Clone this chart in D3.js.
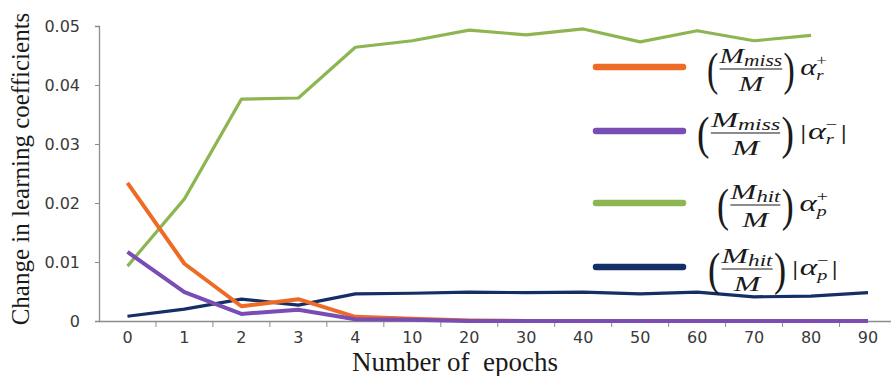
<!DOCTYPE html>
<html>
<head>
<meta charset="utf-8">
<script src="https://cdn.jsdelivr.net/npm/d3@7"></script>
<style>
  body { margin: 0; background: #fff; }
  svg { display: block; }
  .tick text { font-family: "DejaVu Sans", Verdana, sans-serif; font-size: 16px; fill: #3a3a3a; }
  .math { font-family: "Liberation Serif", "DejaVu Serif", serif; fill: #1a1a1a; }
</style>
</head>
<body>
<svg id="chart" width="891" height="376"></svg>
<script>
// epochs on the x axis (categorical)
var epochs = ["0", "1", "2", "3", "4", "10", "20", "30", "40", "50", "60", "70", "80", "90"];
var yTicks = [0, 0.01, 0.02, 0.03, 0.04, 0.05];

// (M_miss/M) a_r+
var missPos = [0.0234, 0.0097, 0.0025, 0.0037, 0.0007, 0.0004, 0.0001, 0, 0, 0, 0, 0, 0, 0];
// (M_miss/M) |a_r-|
var missNeg = [0.0117, 0.0049, 0.0012, 0.0019, 0.0003, 0.0002, 0, 0, 0, 0, 0, 0, 0, 0];
// (M_hit/M) a_p+  (line stops at 80 in the figure)
var hitPos = [0.0093, 0.0207, 0.0376, 0.0378, 0.0464, 0.0475, 0.0493, 0.0485, 0.0495, 0.0473, 0.0492, 0.0475, 0.0484];
// (M_hit/M) |a_p-|
var hitNeg = [0.0008, 0.0020, 0.0037, 0.0027, 0.0046, 0.0047, 0.0049, 0.0048, 0.0049, 0.0046, 0.0049, 0.0041, 0.0042, 0.0048];

var series = [
  { values: hitPos, color: "#8db652", width: 3.2, sub: "hit", aSub: "p", aSup: "+", abs: false },
  { values: hitNeg, color: "#142e66", width: 3.2, sub: "hit", aSub: "p", aSup: "\u2212", abs: true },
  { values: missPos, color: "#ee6b25", width: 4, sub: "miss", aSub: "r", aSup: "+", abs: false },
  { values: missNeg, color: "#7a4db5", width: 4, sub: "miss", aSub: "r", aSup: "\u2212", abs: true }
];
// legend order as in the figure
var legendOrder = [2, 3, 0, 1];
var legendY = [67, 131, 203, 267];
var legendTextX = [707, 697, 717, 708];
var legendTextW = [120, 150, 111, 130];

var svg = d3.select("#chart");
var plotLeft = 99, plotRight = 896.5, plotTop = 26, plotBottom = 321;

var x = d3.scaleBand().domain(epochs).range([plotLeft, plotRight]).padding(0);
var y = d3.scaleLinear().domain([0, 0.05]).range([plotBottom, plotTop]);

// y axis
var yAxis = d3.axisLeft(y)
  .tickValues(yTicks)
  .tickSize(4)
  .tickPadding(15)
  .tickFormat(function(d) { return d === 0 ? "0" : d3.format(".2f")(d); });
var gy = svg.append("g").attr("transform", "translate(" + plotLeft + ",0)").call(yAxis);
gy.select(".domain").attr("stroke", "#8c8c8c").attr("stroke-width", 1.3);
gy.selectAll(".tick line").attr("stroke", "#8c8c8c");

// x axis: labels centred in bands, ticks at band edges
var xAxis = d3.axisBottom(x).tickSize(0).tickPadding(11);
var gx = svg.append("g").attr("transform", "translate(0," + plotBottom + ")").call(xAxis);
gx.select(".domain").attr("stroke", "#8c8c8c").attr("stroke-width", 1.3);
gx.selectAll(".edge")
  .data(epochs.slice(1))
  .enter()
  .append("line")
  .attr("x1", function(d) { return x(d); })
  .attr("x2", function(d) { return x(d); })
  .attr("y1", 0)
  .attr("y2", 6)
  .attr("stroke", "#8c8c8c");

// lines
var line = d3.line()
  .x(function(d, i) { return x(epochs[i]) + x.bandwidth() / 2; })
  .y(function(d) { return y(d); });
series.forEach(function(s) {
  svg.append("path")
    .attr("d", line(s.values))
    .attr("fill", "none")
    .attr("stroke", s.color)
    .attr("stroke-width", s.width)
    .attr("stroke-linejoin", "round");
});

// axis titles
svg.append("text")
  .attr("transform", "translate(29,169) rotate(-90)")
  .attr("text-anchor", "middle")
  .attr("font-family", "Liberation Serif, Times New Roman, serif")
  .attr("font-size", 25)
  .attr("fill", "#1a1a1a")
  .text("Change in learning coefficients");
svg.append("text")
  .attr("x", 455)
  .attr("y", 371)
  .attr("text-anchor", "middle")
  .attr("font-family", "Liberation Serif, Times New Roman, serif")
  .attr("font-size", 27)
  .attr("fill", "#1a1a1a")
  .style("white-space", "pre")
  .text("Number of  epochs");

// legend
function drawMath(g, s) {
  var cx = 0;
  function txt(str, xx, yy, size, italic) {
    return g.append("text").attr("class", "math")
      .attr("x", xx).attr("y", yy)
      .attr("font-size", size)
      .attr("font-style", italic ? "italic" : "normal")
      .text(str);
  }
  var lp = g.append("text").attr("class", "math")
    .attr("font-size", 46)
    .attr("transform", "translate(0,16) scale(0.55,1)")
    .text("(");
  cx = lp.node().getComputedTextLength() * 0.55 + 1;
  var num = g.append("text").attr("class", "math").attr("x", cx).attr("y", -6);
  num.append("tspan").attr("font-size", 22).attr("font-style", "italic").text("M");
  num.append("tspan").attr("font-size", 16).attr("font-style", "italic").attr("dy", 3).text(s.sub);
  var numW = num.node().getComputedTextLength();
  txt("M", cx + numW / 2, 22, 22, true).attr("text-anchor", "middle");
  g.append("line")
    .attr("x1", cx).attr("x2", cx + numW)
    .attr("y1", 0).attr("y2", 0)
    .attr("stroke", "#1a1a1a").attr("stroke-width", 1.2);
  cx += numW + 1;
  g.append("text").attr("class", "math")
    .attr("font-size", 46)
    .attr("transform", "translate(" + cx + ",16) scale(0.55,1)")
    .text(")");
  cx += lp.node().getComputedTextLength() * 0.55 + 4;
  if (s.abs) {
    var b1 = txt("|", cx, 6, 22, false);
    cx += b1.node().getComputedTextLength() + 1;
  }
  var a = txt("\u03b1", cx, 6, 23, true);
  cx += a.node().getComputedTextLength();
  var sup = txt(s.aSup, cx, -4, 14, false);
  var sb = txt(s.aSub, cx, 11, 14, true);
  cx += Math.max(sup.node().getComputedTextLength(), sb.node().getComputedTextLength()) + 2;
  if (s.abs) {
    txt("|", cx, 6, 22, false);
  }
}

legendOrder.forEach(function(k, i) {
  var s = series[k];
  svg.append("line")
    .attr("x1", 596).attr("x2", 683)
    .attr("y1", legendY[i]).attr("y2", legendY[i])
    .attr("stroke", s.color)
    .attr("stroke-width", 6.5)
    .attr("stroke-linecap", "round");
  var g = svg.append("g");
  var inner = g.append("g");
  drawMath(inner, s);
  var bb = inner.node().getBBox();
  var sx = legendTextW[i] / bb.width;
  g.attr("transform", "translate(" + legendTextX[i] + "," + (legendY[i] + 2) + ") scale(" + sx + ",1) translate(" + (-bb.x) + ",0)");
});
</script>
</body>
</html>
